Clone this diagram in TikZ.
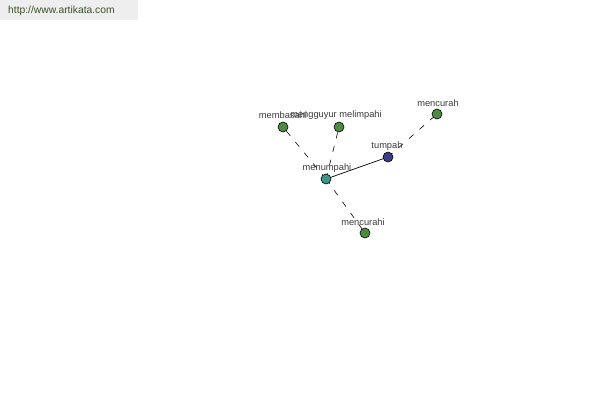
\documentclass[tikz,border=0pt]{standalone}
\usepackage{fontspec}
\setmainfont{Liberation Sans}
\definecolor{nodegreen}{RGB}{76,140,64}
\definecolor{nodeblue}{RGB}{60,60,140}
\definecolor{nodeteal}{RGB}{60,150,140}
\definecolor{wmbg}{RGB}{238,238,238}
\definecolor{wmtext}{RGB}{60,80,45}
\definecolor{lbl}{RGB}{60,60,60}
\begin{document}
\begin{tikzpicture}[x=1pt,y=-1pt,
  dot/.style={circle,draw=black,line width=0.6pt,minimum size=10pt,inner sep=0pt},
  lab/.style={font=\fontsize{9.3}{10}\selectfont,text=lbl,inner sep=0pt},
  dashlink/.style={draw=black,line width=0.6pt,dash pattern=on 6pt off 8pt},
  solidlink/.style={draw=black,line width=0.7pt}]
\useasboundingbox (0,0) rectangle (600,400);
\fill[white] (0,0) rectangle (600,400);
\node[fill=wmbg,minimum width=138pt,minimum height=20pt,inner sep=0pt,anchor=north west] (wm) at (0,0) {};
\node[font=\fontsize{10.3}{11}\selectfont,text=wmtext,anchor=west,inner sep=0pt] (wmt) at (8,11) {http://www.artikata.com};
\coordinate (pmb) at (283,127);
\coordinate (pmg) at (339,127);
\coordinate (pmc) at (437,114);
\coordinate (ptu) at (388,157);
\coordinate (pme) at (326,179);
\coordinate (pmi) at (365,233);
\draw[dashlink] (pme) -- (pmb);
\draw[dashlink] (pme) -- (pmg);
\draw[dashlink] (pme) -- (pmi);
\draw[dashlink] (ptu) -- (pmc);
\draw[solidlink] (pme) -- (ptu);
\node[dot,fill=nodegreen] (mb) at (pmb) {};
\node[dot,fill=nodegreen] (mg) at (pmg) {};
\node[dot,fill=nodegreen] (mc) at (pmc) {};
\node[dot,fill=nodeblue] (tu) at (ptu) {};
\node[dot,fill=nodeteal] (me) at (pme) {};
\node[dot,fill=nodegreen] (mi) at (pmi) {};
\node[lab] (lmb) at (283,115) {membasahi};
\node[lab] (lmg) at (336,115) {mengguyur melimpahi};
\node[lab] (lmc) at (438,103) {mencurah};
\node[lab] (ltu) at (387,146) {tumpah};
\node[lab] (lme) at (327,168) {menumpahi};
\node[lab] (lmi) at (363,222) {mencurahi};
\end{tikzpicture}
\end{document}
